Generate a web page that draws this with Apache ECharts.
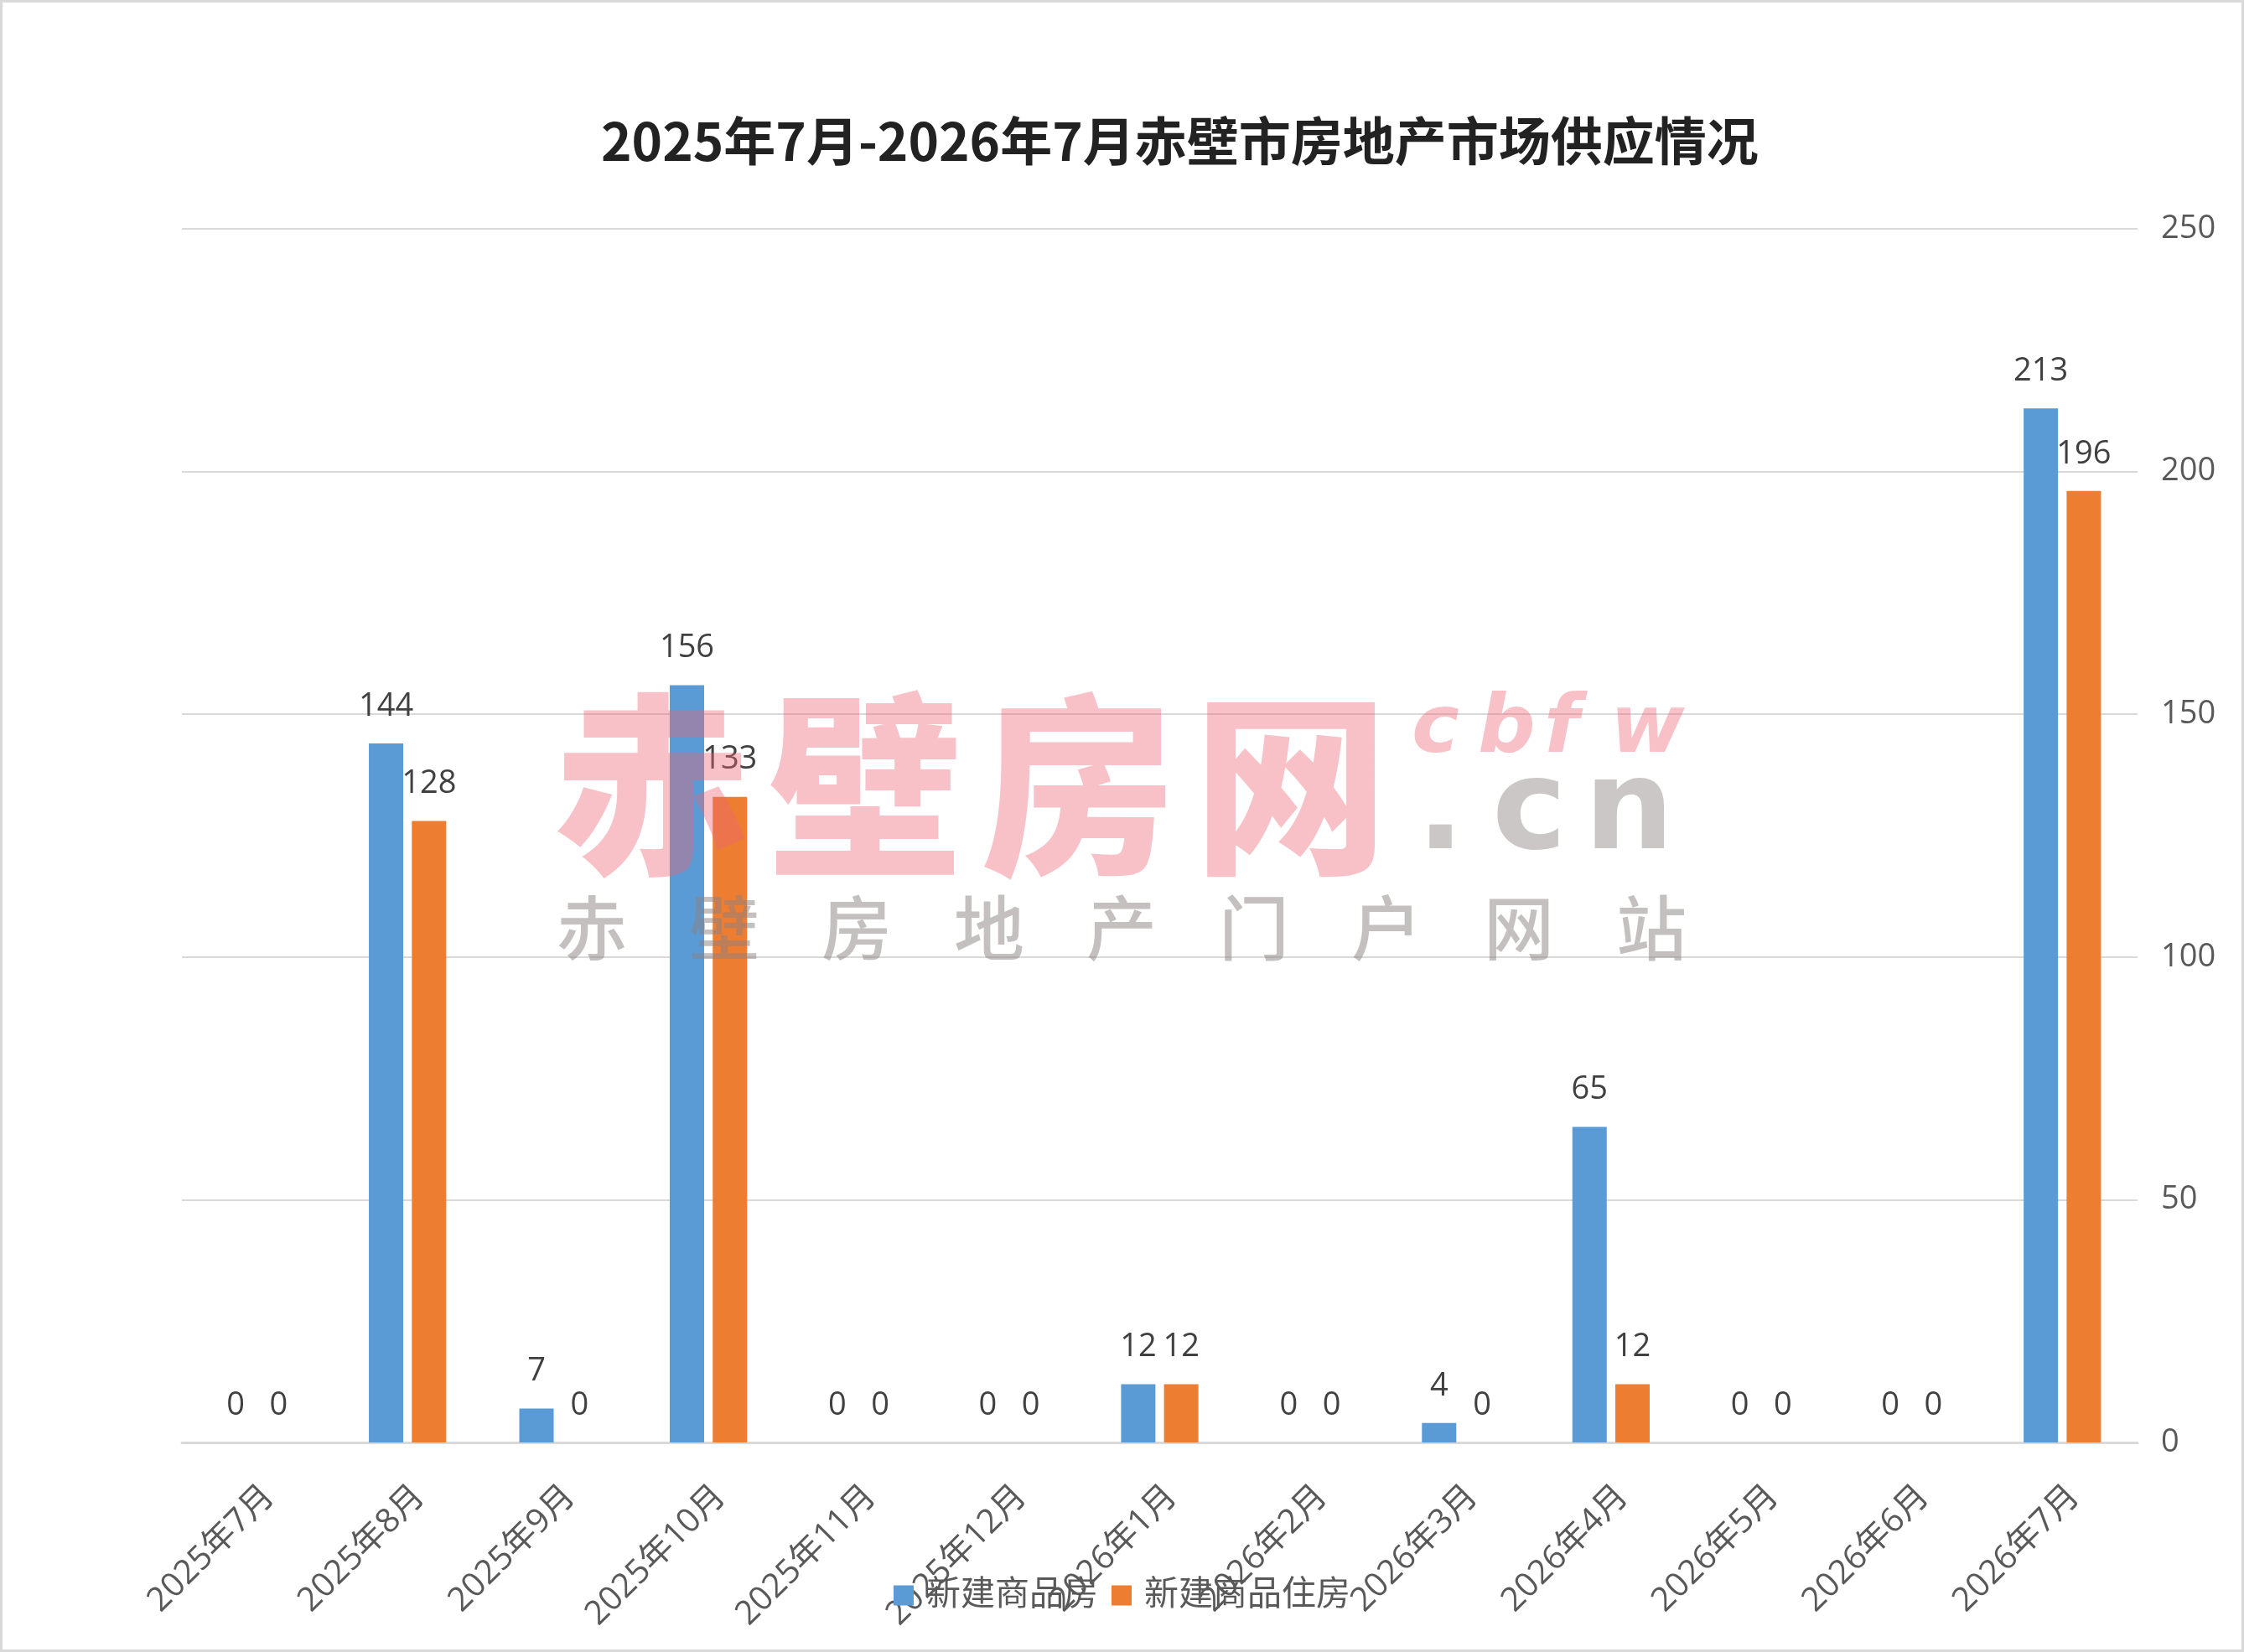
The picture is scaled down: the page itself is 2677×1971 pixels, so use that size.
<!DOCTYPE html>
<html>
<head>
<meta charset="utf-8">
<script src="https://cdn.jsdelivr.net/npm/echarts@6/dist/echarts.min.js"></script>
<style>
  html, body { margin: 0; padding: 0; background: #fff; }
  #chart { width: 2677px; height: 1971px; }
</style>
</head>
<body>
<div id="chart"></div>
<script>
const months = ['2025年7月', '2025年8月', '2025年9月', '2025年10月', '2025年11月', '2025年12月',
  '2026年1月', '2026年2月', '2026年3月', '2026年4月', '2026年5月', '2026年6月', '2026年7月']
const newHouse = [0, 144, 7, 156, 0, 0, 12, 0, 4, 65, 0, 0, 213]
const newResidential = [0, 128, 0, 133, 0, 0, 12, 0, 0, 12, 0, 0, 196]
const seriesNames = ['新建商品房', '新建商品住房']
const chartTitle = '2025年7月-2026年7月赤壁市房地产市场供应情况'

const font = '"Open Sans", "Noto Sans CJK SC", sans-serif'
const cjk = '"Noto Sans CJK SC", sans-serif'

// watermark, one text element per glyph
const mark = []
'赤壁房网'.split('').forEach((ch, i) => {
  mark.push({
    type: 'text', z: 100, left: 662 + i * 254, top: 820,
    style: { text: ch, font: `900 232px ${cjk}`, fill: 'rgba(235,100,115,0.4)' }
  })
})
'cbfw'.split('').forEach((ch, i) => {
  mark.push({
    type: 'text', z: 100, left: 1684 + i * 79, top: 824,
    style: { text: ch, font: `italic 900 96px "DejaVu Sans", sans-serif`, fill: 'rgba(235,100,115,0.4)' }
  })
})
;['.', 'c', 'n'].forEach((ch, i) => {
  mark.push({
    type: 'text', z: 100, left: [1690, 1780, 1890][i], top: 898,
    style: { text: ch, font: `bold 150px "DejaVu Sans", sans-serif`, fill: 'rgba(140,130,130,0.45)' }
  })
})
'赤壁房地产门户网站'.split('').forEach((ch, i) => {
  mark.push({
    type: 'text', z: 100, left: 664 + i * 158, top: 1065,
    style: { text: ch, font: `500 84px ${cjk}`, fill: 'rgba(140,130,130,0.5)' }
  })
})

const chart = echarts.init(document.getElementById('chart'))
chart.setOption({
  backgroundColor: '#fff',
  animation: false,
  title: {
    text: chartTitle,
    left: 712,
    top: 132,
    textStyle: { fontFamily: cjk, fontWeight: 'bold', fontSize: 62, color: '#222' }
  },
  legend: {
    data: seriesNames,
    bottom: 42,
    left: 'center',
    itemWidth: 24,
    itemHeight: 24,
    itemGap: 16,
    icon: 'rect',
    textStyle: { fontFamily: font, fontSize: 41, color: '#595959', padding: [0, 0, 0, 10] }
  },
  grid: { left: 217, right: 127, top: 273, bottom: 250 },
  xAxis: {
    type: 'category',
    data: months,
    axisLine: { lineStyle: { color: '#d9d9d9', width: 3 } },
    axisTick: { show: false },
    axisLabel: {
      rotate: 45, interval: 0, margin: 44, verticalAlign: 'top',
      fontFamily: font, fontSize: 40, color: '#595959'
    }
  },
  yAxis: {
    type: 'value',
    position: 'right',
    min: 0, max: 250, interval: 50,
    axisLine: { show: false },
    axisTick: { show: false },
    splitLine: { lineStyle: { color: '#d9d9d9', width: 2 } },
    axisLabel: { margin: 28, fontFamily: font, fontSize: 38, color: '#595959' }
  },
  series: [
    {
      name: seriesNames[0], type: 'bar', data: newHouse,
      barWidth: 41, barGap: '25%',
      itemStyle: { color: '#5b9bd5' },
      label: { show: true, position: 'top', distance: 25, fontFamily: font, fontSize: 38, color: '#404040' }
    },
    {
      name: seriesNames[1], type: 'bar', data: newResidential,
      barWidth: 41, barGap: '25%',
      itemStyle: { color: '#ed7d31' },
      label: { show: true, position: 'top', distance: 25, fontFamily: font, fontSize: 38, color: '#404040' }
    }
  ],
  graphic: [
    {
      type: 'rect', z: -1, silent: true,
      shape: { x: 1.5, y: 1.5, width: 2674, height: 1968 },
      style: { fill: 'none', stroke: '#d9d9d9', lineWidth: 3 }
    },
    ...mark
  ]
})
</script>
</body>
</html>
